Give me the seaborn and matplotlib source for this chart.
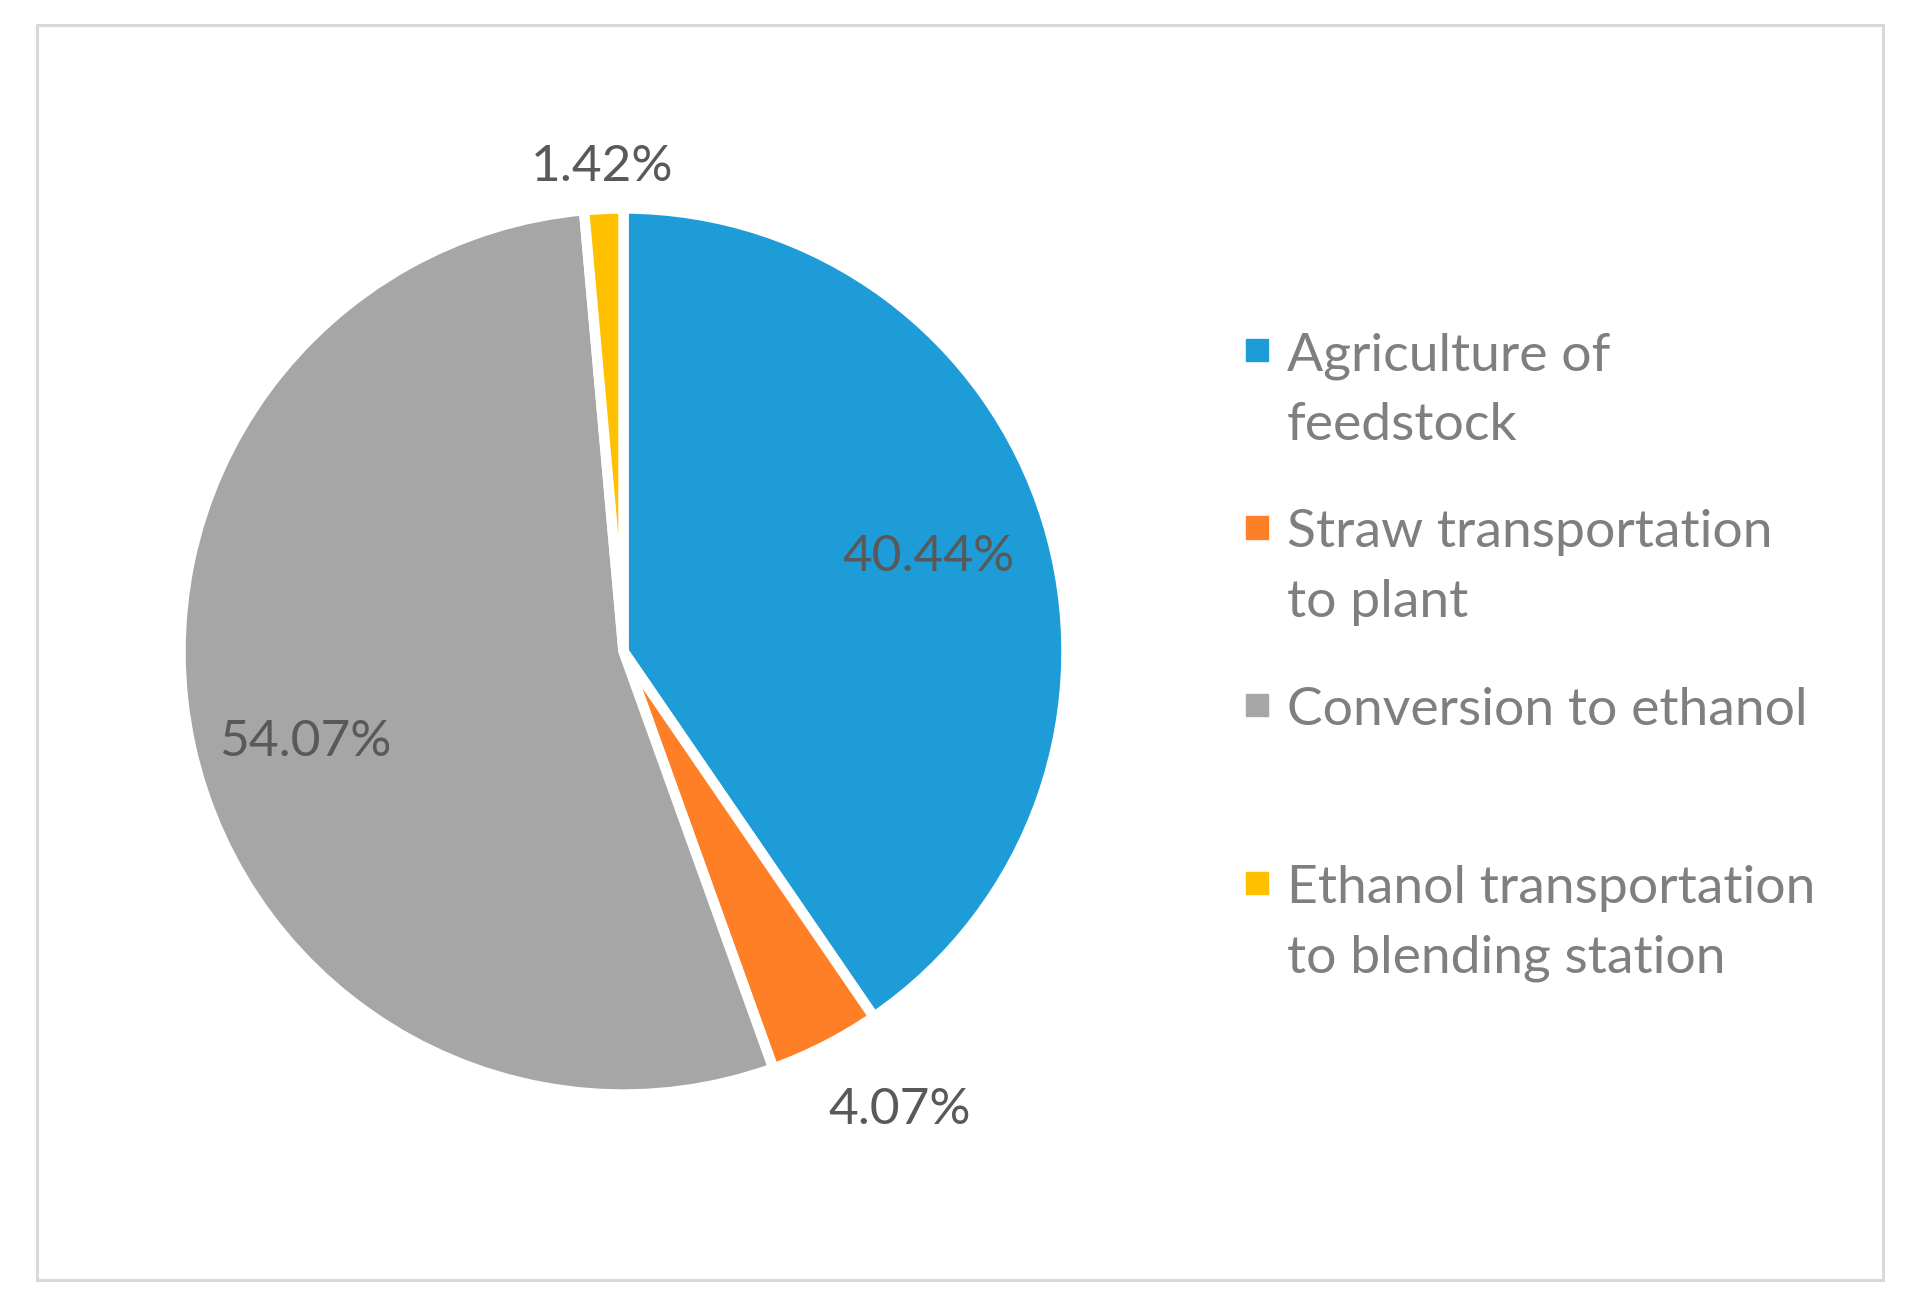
import matplotlib
matplotlib.use('Agg')
import matplotlib.pyplot as plt
import seaborn as sns
import numpy as np
from matplotlib.patches import Rectangle

# data
categories = ['Agriculture of feedstock', 'Straw transportation to plant',
              'Conversion to ethanol', 'Ethanol transportation to blending station']
legend_lines = [['Agriculture of', 'feedstock'],
                ['Straw transportation', 'to plant'],
                ['Conversion to ethanol'],
                ['Ethanol transportation', 'to blending station']]
shares = [40.44, 4.07, 54.07, 1.42]
pct_labels = ['40.44%', '4.07%', '54.07%', '1.42%']
# label placement: radial distance (in radii) and angle shift from the wedge middle
label_dist = [0.725, 1.20, 0.745, 1.104]
label_shift = [0.8, 4.2, 2.7, 0.0]
colors = ['#1E9CD8', '#FE7F26', '#A6A6A6', '#FFC000']

sns.set_theme(style='white')
plt.rcParams['font.family'] = ['Lato', 'DejaVu Sans']

W, H = 1920, 1308
fig = plt.figure(figsize=(W / 100, H / 100), dpi=100)
fig.patch.set_facecolor('white')

# outer frame
fig.patches.append(Rectangle((36.7 / W, 1 - 1279.6 / H), (1883.3 - 36.7) / W, (1279.6 - 24.5) / H,
                             transform=fig.transFigure, fill=False, edgecolor='#D9D9D9', linewidth=2.2))

# pie axes placed by pixel centre / radius
cx, cy, r = 623.5, 651.5, 443
lim = 1.3
ax = fig.add_axes([(cx - lim * r) / W, 1 - (cy + lim * r) / H, 2 * lim * r / W, 2 * lim * r / H])
wedges, _ = ax.pie(shares, colors=colors, startangle=90, counterclock=False, radius=1,
                   wedgeprops=dict(edgecolor='white', linewidth=7.5))
ax.set_xlim(-lim, lim)
ax.set_ylim(-lim, lim)
ax.set_aspect('equal')
ax.axis('off')

for w, lab, d, s in zip(wedges, pct_labels, label_dist, label_shift):
    th = np.deg2rad((w.theta1 + w.theta2) / 2 + s)
    ax.annotate(lab, xy=(d * np.cos(th), d * np.sin(th)), xytext=(0, -13.3),
                textcoords='offset points', ha='center', va='baseline',
                fontsize=37, color='#595959')

# legend drawn by hand so the marker sits on the first line
base0, step, line_gap = 370, 177.5, 70
for i, (lines, col) in enumerate(zip(legend_lines, colors)):
    b = base0 + i * step
    fig.patches.append(Rectangle((1246 / W, 1 - (b - 9) / H), 22 / W, 22 / H,
                                 transform=fig.transFigure, color=col))
    for j, txt in enumerate(lines):
        fig.text(1287 / W, 1 - (b + j * line_gap) / H, txt, ha='left', va='baseline',
                 fontsize=38.5, color='#7F7F7F')

fig.savefig('out.png', dpi=100)
